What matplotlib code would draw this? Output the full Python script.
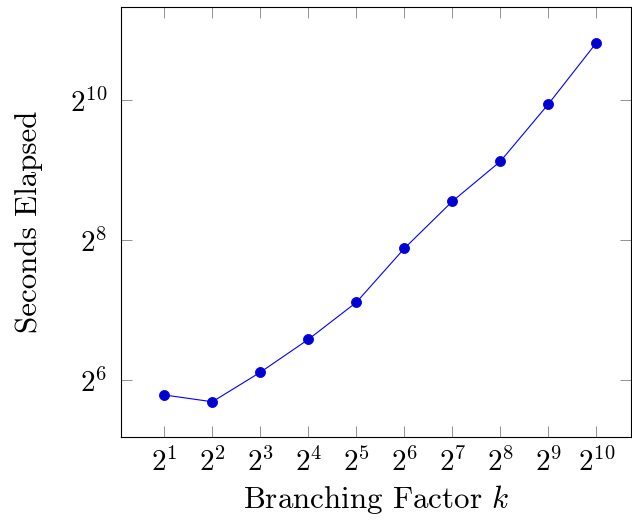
import math
import matplotlib
matplotlib.use("Agg")
import matplotlib.pyplot as plt
from matplotlib.ticker import FixedLocator, FuncFormatter, NullLocator

plt.rcParams['mathtext.fontset'] = 'cm'
plt.rcParams['font.family'] = 'serif'
plt.rcParams['font.serif'] = ['cmr10', 'DejaVu Serif']
plt.rcParams['axes.formatter.use_mathtext'] = True

branching = [2, 4, 8, 16, 32, 64, 128, 256, 512, 1024]
seconds = [55.2, 51.6, 69.1, 95.7, 138.1, 235.7, 375.6, 558, 984, 1806]
x_ticks = [2 ** i for i in range(1, 11)]
y_ticks = [2 ** 6, 2 ** 8, 2 ** 10]

fig = plt.figure(figsize=(6.32, 5.23), dpi=100)
ax = fig.add_axes([121 / 632, 86 / 523, 510 / 632, 430 / 523])
ax.plot(branching, seconds, color=(0, 0, 1), lw=0.8, marker='o', ms=7.2,
        mfc=(0, 0, 0.8), mec=(0, 0, 1), mew=0.6)
ax.set_xscale('log', base=2)
ax.set_yscale('log', base=2)
ax.set_xlim(2 ** 0.098, 2 ** 10.72)
ax.set_ylim(2 ** 5.186, 2 ** 11.329)

def fmt(v, pos):
    e = int(round(math.log2(v)))
    return r'$2^{%d}$' % e

ax.xaxis.set_major_locator(FixedLocator(x_ticks))
ax.yaxis.set_major_locator(FixedLocator(y_ticks))
ax.xaxis.set_minor_locator(NullLocator())
ax.yaxis.set_minor_locator(NullLocator())
ax.xaxis.set_major_formatter(FuncFormatter(fmt))
ax.yaxis.set_major_formatter(FuncFormatter(fmt))
ax.tick_params(which='major', direction='in', length=8, width=0.6, color='#808080',
               top=True, right=True, labelsize=21)
ax.tick_params(axis='x', pad=8)
ax.tick_params(axis='y', pad=10)
for s in ax.spines.values():
    s.set_linewidth(0.8)

ax.set_xlabel(r'Branching Factor $k$', fontsize=22.3, labelpad=4)
ax.set_ylabel('Seconds Elapsed', fontsize=22.3, labelpad=19)

fig.savefig('out.png', dpi=100)
